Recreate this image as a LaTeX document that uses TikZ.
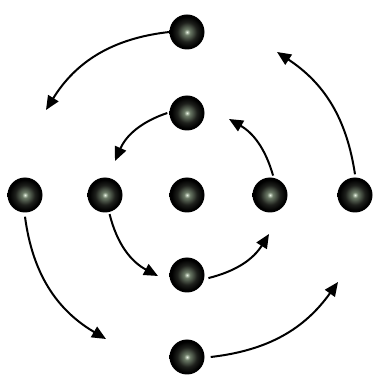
\documentclass[tikz,border=0pt]{standalone}
\usepackage{xcolor}
\usepackage{tikz}
\usetikzlibrary{arrows.meta, positioning}
\definecolor{glint}{RGB}{230,240,225}
\definecolor{moss}{RGB}{110,125,105}
\definecolor{coal}{RGB}{30,32,28}
\pgfdeclareradialshading{pearlshade}{\pgfpoint{0bp}{0bp}}{%
  color(0bp)=(glint); color(4bp)=(moss); color(14bp)=(coal);
  color(22bp)=(black); color(25bp)=(black); color(50bp)=(black)}

\begin{document}
\begin{tikzpicture}[x=1pt, y=1pt,
    pearl/.style={circle, minimum size=35pt, inner sep=0pt, shading=pearlshade},
    spin/.style={-{Triangle[length=14pt, width=12pt]}, line width=2pt, black}]
  \useasboundingbox (0,0) rectangle (377,378);

  % Balls
  \node[pearl] (top2) at (187,346) {};
  \node[pearl] (top1) at (187,265) {};
  \node[pearl] (ctr)  at (187,183) {};
  \node[pearl] (bot1) at (187,103) {};
  \node[pearl] (bot2) at (187,21)  {};
  \node[pearl] (lft2) at (25,183)  {};
  \node[pearl] (lft1) at (105,183) {};
  \node[pearl] (rgt1) at (270,183) {};
  \node[pearl] (rgt2) at (355,183) {};

  % Arrow tips
  \coordinate (o1) at (46,268);
  \coordinate (o2) at (106,39);
  \coordinate (o3) at (338,96);
  \coordinate (o4) at (277,326);
  \coordinate (i1) at (115,217);
  \coordinate (i2) at (158,102);
  \coordinate (i3) at (269,144);
  \coordinate (i4) at (229,259);

  % Outer ring
  \draw[spin] (top2.west) to[bend right=26] (o1);
  \draw[spin] ([yshift=-4pt]lft2.south) to[bend right=26] (o2);
  \draw[spin] ([xshift=6pt]bot2.east) to[bend right=24] (o3);
  \draw[spin] ([yshift=3pt]rgt2.north) to[bend right=24] (o4);

  % Inner ring
  \draw[spin] ([xshift=-2pt]top1.west) to[bend right=24] (i1);
  \draw[spin] ([yshift=-2pt]lft1.-75) to[bend right=24] (i2);
  \draw[spin] ([xshift=4pt]bot1.-10) to[bend right=22] (i3);
  \draw[spin] ([yshift=2pt]rgt1.80) to[bend right=22] (i4);
\end{tikzpicture}
\end{document}
